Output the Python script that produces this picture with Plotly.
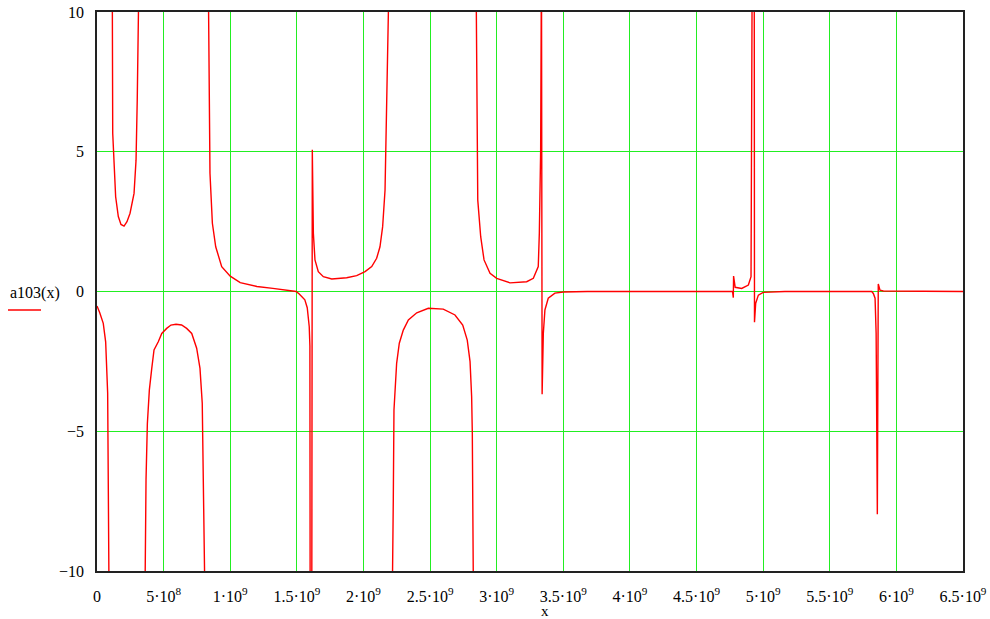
import plotly.graph_objects as go

# x values in units of 1e9, y values of a103(x); None separates branches
x_branch_a = [0.0, 0.02, 0.047, 0.065, 0.08, 0.085, 0.09, 0.092]
y_branch_a = [-0.52, -0.75, -1.14, -1.8, -3.64, -6.0, -10.0, -12.0]

x_branch_b = [0.114, 0.118, 0.140, 0.160, 0.180, 0.203, 0.225, 0.248, 0.278, 0.293, 0.302, 0.315, 0.317]
y_branch_b = [12.0, 5.66, 3.39, 2.68, 2.4, 2.34, 2.5, 2.8, 3.51, 4.7, 6.85, 10.0, 12.0]

x_branch_c = [0.358, 0.360, 0.368, 0.378, 0.393, 0.411, 0.428, 0.460, 0.486, 0.523, 0.555, 0.593,
              0.635, 0.673, 0.711, 0.748, 0.773, 0.790, 0.805, 0.811, 0.813]
y_branch_c = [-12.0, -10.0, -6.74, -4.72, -3.52, -2.75, -2.09, -1.8, -1.5, -1.32, -1.2, -1.17,
              -1.2, -1.32, -1.5, -2.03, -2.75, -4.0, -7.9, -10.0, -12.0]

x_branch_d = [0.834, 0.843, 0.848, 0.866, 0.891, 0.936, 1.0, 1.075, 1.2, 1.32, 1.45, 1.495,
              1.52, 1.56, 1.578, 1.593, 1.598, 1.600, 1.612, 1.616, 1.624, 1.636, 1.661, 1.699,
              1.762, 1.874, 1.949, 2.012, 2.062, 2.099, 2.124, 2.144, 2.162, 2.169, 2.179,
              2.187, 2.192, 2.195]
y_branch_d = [12.0, 6.85, 4.23, 2.44, 1.6, 0.89, 0.55, 0.32, 0.18, 0.11, 0.04, 0.0,
              -0.1, -0.3, -0.58, -1.26, -1.95, -12.0, -12.0, 5.07, 2.08, 1.13, 0.71, 0.53,
              0.45, 0.49, 0.57, 0.71, 0.89, 1.19, 1.6, 2.32, 3.63, 5.07, 6.85,
              8.6, 10.0, 12.0]

x_branch_f = [2.214, 2.216, 2.224, 2.229, 2.242, 2.249, 2.269, 2.299, 2.337, 2.400, 2.487, 2.599,
              2.687, 2.745, 2.779, 2.800, 2.812, 2.817, 2.824, 2.826]
y_branch_f = [-12.0, -10.0, -7.4, -4.24, -3.28, -2.57, -1.85, -1.38, -1.02, -0.76, -0.6, -0.63,
              -0.84, -1.2, -1.74, -2.51, -3.76, -5.07, -10.0, -12.0]

x_branch_g = [2.844, 2.855, 2.858, 2.880, 2.905, 2.950, 3.000, 3.100, 3.225, 3.275, 3.312, 3.320,
              3.330, 3.336, 3.341, 3.350, 3.362, 3.387, 3.437, 3.5, 3.676, 3.68, 4.748, 4.770,
              4.776, 4.778, 4.790, 4.839, 4.889, 4.909, 4.918, 4.933, 4.935, 4.944, 4.964,
              5.0, 5.163, 5.815, 5.827, 5.840, 5.848, 5.853, 5.857, 5.864, 5.877, 5.902, 6.5]
y_branch_g = [12.0, 5.07, 3.27, 1.96, 1.13, 0.65, 0.47, 0.31, 0.35, 0.47, 0.89, 2.08,
              5.07, 12.0, -3.68, -1.5, -0.66, -0.24, -0.06, -0.02, -0.01, 0.0, 0.0, 0.0,
              -0.22, 0.55, 0.15, 0.11, 0.23, 0.53, 12.0, 12.0, -1.1, -0.42, -0.13,
              -0.03, 0.0, 0.0, -0.07, -0.24, -1.5, -4.96, -7.97, 0.27, 0.05, 0.02, 0.0]

x_tick_vals = [0, 0.5, 1, 1.5, 2, 2.5, 3, 3.5, 4, 4.5, 5, 5.5, 6, 6.5]
x_tick_text = ["0", "5·10<sup>8</sup>", "1·10<sup>9</sup>", "1.5·10<sup>9</sup>", "2·10<sup>9</sup>",
               "2.5·10<sup>9</sup>", "3·10<sup>9</sup>", "3.5·10<sup>9</sup>", "4·10<sup>9</sup>",
               "4.5·10<sup>9</sup>", "5·10<sup>9</sup>", "5.5·10<sup>9</sup>", "6·10<sup>9</sup>",
               "6.5·10<sup>9</sup>"]
y_tick_vals = [-10, -5, 0, 5, 10]
y_tick_text = ["\u221210", "\u22125", "0", "5", "10"]

branches = [(x_branch_a, y_branch_a), (x_branch_b, y_branch_b), (x_branch_c, y_branch_c),
            (x_branch_d, y_branch_d), (x_branch_f, y_branch_f), (x_branch_g, y_branch_g)]
xs, ys = [], []
for bx, by in branches:
    xs += [v * 1e9 for v in bx] + [None]
    ys += list(by) + [None]

FONT = "Liberation Serif, Times New Roman, serif"
GRID = "#22ee22"

fig = go.Figure()
fig.add_trace(go.Scatter(x=xs, y=ys, mode="lines", connectgaps=False,
                         line=dict(color="#ff0000", width=1.4), showlegend=False,
                         hoverinfo="skip"))

fig.update_layout(
    template="none",
    width=990, height=619,
    margin=dict(l=97, r=27, t=12, b=48, autoexpand=False),
    paper_bgcolor="white", plot_bgcolor="white",
    font=dict(family=FONT, size=16, color="black"),
    xaxis=dict(range=[0, 6.5e9], tickvals=[v * 1e9 for v in x_tick_vals], ticktext=x_tick_text,
               showgrid=True, gridcolor=GRID, gridwidth=1.2, zeroline=False, automargin=False,
               showline=True, linecolor="#222222", linewidth=1.5, mirror=True,
               ticks="", ticklabelstandoff=10, ticklabeloverflow="allow",
               tickfont=dict(family=FONT, size=16, color="black")),
    yaxis=dict(range=[-10, 10], tickvals=y_tick_vals, ticktext=y_tick_text,
               showgrid=True, gridcolor=GRID, gridwidth=1.2, zeroline=True, automargin=False,
               zerolinecolor=GRID, zerolinewidth=1.2,
               showline=True, linecolor="#222222", linewidth=1.5, mirror=True,
               ticks="", ticklabelstandoff=8, ticklabeloverflow="allow",
               tickfont=dict(family=FONT, size=16, color="black")),
    annotations=[
        dict(text="x", xref="paper", yref="paper", x=(545 - 97) / 866, y=-(611 - 571) / 559,
             showarrow=False, xanchor="center", yanchor="middle",
             font=dict(family=FONT, size=15, color="black")),
        dict(text="a103(x)", xref="paper", yref="paper", x=-(97 - 8) / 866,
             y=(571 - 293) / 559, showarrow=False, xanchor="left", yanchor="middle",
             font=dict(family=FONT, size=16, color="black")),
    ],
    shapes=[dict(type="line", xref="paper", yref="paper",
                 x0=-(97 - 8) / 866, x1=-(97 - 41) / 866,
                 y0=(571 - 310) / 559, y1=(571 - 310) / 559,
                 line=dict(color="#ff0000", width=1.4))],
)

# remove the browser's default 8px body margin so the 990x619 figure fills the window
fig.write_html("out.html", config={"displayModeBar": False},
               post_script="document.body.style.margin='0';document.body.style.overflow='hidden';")
